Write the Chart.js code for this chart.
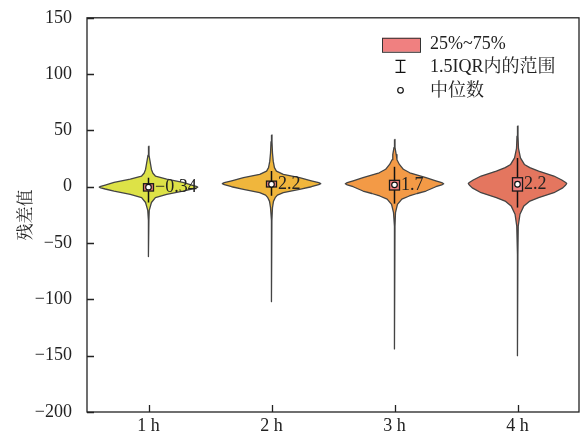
<!DOCTYPE html>
<html>
<head>
<meta charset="utf-8">
<script src="https://cdn.jsdelivr.net/npm/chart.js@4.4.1/dist/chart.umd.min.js"></script>
<style>
  html, body { margin: 0; padding: 0; background: #fff; }
  canvas { display: block; }
</style>
</head>
<body>
<canvas id="chart" width="581" height="437"></canvas>
<script>
// Forecast horizons (x tick labels)
const categories = ['1 h', '2 h', '3 h', '4 h'];

// Box statistics per horizon
const medians = [-0.34, 2.2, 1.7, 2.2];
const q1 = [-3.8, -0.2, -2.9, -3.8];
const q3 = [2.7, 5.0, 5.7, 8.0];
const whiskerLow = [-14, -8, -15, -18.5];
const whiskerHigh = [8, 14, 17.7, 25.5];

// Kernel density outlines: residual levels and relative half-widths
const levels1h = [36, 28, 23, 15.4, 12, 9.5, 6.7, 3.8, 1.5, 0.4, -0.3, -1, -2, -3.8, -6.7, -9.7, -14, -21, -30, -45, -62];
const widths1h = [0, 0.01, 0.03, 0.06, 0.09, 0.14, 0.37, 0.7, 0.88, 0.97, 1, 0.97, 0.88, 0.7, 0.37, 0.14, 0.06, 0.015, 0.008, 0.005, 0];

const levels2h = [46, 40, 30, 22.7, 17, 13.9, 11, 8, 5.3, 3.6, 2.7, 1.8, 0, -2.3, -5.3, -7.5, -9.7, -13, -18.5, -30, -50, -75, -102];
const widths2h = [0, 0.01, 0.02, 0.035, 0.06, 0.1, 0.24, 0.57, 0.81, 0.96, 1, 0.96, 0.81, 0.57, 0.24, 0.12, 0.075, 0.04, 0.02, 0.008, 0.006, 0.005, 0];

const levels3h = [42, 35, 28.6, 24, 19.8, 15.5, 12.4, 8, 5.3, 3.7, 2.7, 1.7, 0, -3.8, -6, -8.2, -11, -15.6, -23, -35, -60, -90, -120, -144];
const widths3h = [0, 0.01, 0.035, 0.05, 0.1, 0.18, 0.31, 0.64, 0.84, 0.96, 1, 0.96, 0.84, 0.64, 0.46, 0.3, 0.15, 0.06, 0.02, 0.01, 0.008, 0.007, 0.006, 0];

const levels4h = [54, 45, 34, 25.6, 19.8, 17, 13.9, 9.5, 6, 3.8, 2.7, 1.6, -1, -5.3, -9.7, -13, -17, -24.4, -35, -60, -100, -130, -150];
const widths4h = [0, 0.01, 0.02, 0.06, 0.14, 0.25, 0.43, 0.74, 0.9, 0.98, 1, 0.98, 0.92, 0.74, 0.43, 0.24, 0.13, 0.05, 0.015, 0.008, 0.006, 0.005, 0];

const violinColors = ['#dde247', '#f0b63c', '#f39a46', '#e4765f'];
const legendLabels = ['25%~75%', '1.5IQR内的范围', '中位数'];

const SERIF = "'Liberation Serif', 'Noto Serif CJK SC', 'Noto Sans CJK SC', serif";
const INK = '#222';
const BOX_FILL = '#f08080';
const HALF_WIDTH = 0.4;   // max half-width of a violin, in x units

const profiles = [
  [levels1h, widths1h],
  [levels2h, widths2h],
  [levels3h, widths3h],
  [levels4h, widths4h]
];

// Each violin is one closed outline: right side top->bottom, left side bottom->top
const datasets = profiles.map(([lv, wd], i) => {
  const cx = i + 1;
  const right = lv.map((v, k) => ({ x: cx + wd[k] * HALF_WIDTH, y: v }));
  const left = lv.map((v, k) => ({ x: cx - wd[k] * HALF_WIDTH, y: v })).reverse();
  return {
    label: categories[i],
    data: right.concat(left),
    backgroundColor: violinColors[i],
    borderColor: '#444',
    borderWidth: 1.3,
    borderJoinStyle: 'round',
    fill: 'shape',
    pointRadius: 0,
    tension: 0
  };
});

const fmt = v => (v < 0 ? '\u2212' + Math.abs(v) : String(v));

const overlay = {
  id: 'overlay',
  afterDatasetsDraw(chart) {
    const { ctx, scales: { x, y } } = chart;
    ctx.save();
    categories.forEach((c, i) => {
      const px = x.getPixelForValue(i + 1);
      // 1.5 IQR whisker
      ctx.strokeStyle = '#111';
      ctx.lineWidth = 1.5;
      ctx.beginPath();
      ctx.moveTo(px, y.getPixelForValue(whiskerHigh[i]));
      ctx.lineTo(px, y.getPixelForValue(whiskerLow[i]));
      ctx.stroke();
      // interquartile box
      const top = y.getPixelForValue(q3[i]);
      const bot = y.getPixelForValue(q1[i]);
      ctx.fillStyle = BOX_FILL;
      ctx.fillRect(px - 5, top, 10, bot - top);
      ctx.lineWidth = 1.3;
      ctx.strokeStyle = '#1a1a1a';
      ctx.strokeRect(px - 5, top, 10, bot - top);
      // median marker
      const my = y.getPixelForValue(medians[i]);
      ctx.beginPath();
      ctx.arc(px, my, 2.8, 0, Math.PI * 2);
      ctx.fillStyle = '#fff';
      ctx.fill();
      ctx.lineWidth = 1.2;
      ctx.strokeStyle = '#111';
      ctx.stroke();
      // median value label
      ctx.fillStyle = INK;
      ctx.font = '18px ' + SERIF;
      ctx.textAlign = 'left';
      ctx.textBaseline = 'middle';
      ctx.fillText(fmt(medians[i]), px + 6.5, my);
    });
    ctx.restore();
  },
  afterDraw(chart) {
    const { ctx, chartArea: a, scales: { x, y } } = chart;
    ctx.save();
    ctx.strokeStyle = INK;
    ctx.lineWidth = 1.3;
    // frame
    ctx.strokeRect(a.left, a.top, a.right - a.left, a.bottom - a.top);
    // inward tick marks
    ctx.beginPath();
    y.ticks.forEach(t => {
      const py = Math.round(y.getPixelForValue(t.value)) + 0.5;
      ctx.moveTo(a.left, py);
      ctx.lineTo(a.left + 7, py);
    });
    x.ticks.forEach(t => {
      const px = Math.round(x.getPixelForValue(t.value)) + 0.5;
      ctx.moveTo(px, a.bottom);
      ctx.lineTo(px, a.bottom - 7);
    });
    ctx.stroke();

    // legend
    const lx = a.right - 197;
    const ly = a.top + 20;
    ctx.fillStyle = BOX_FILL;
    ctx.fillRect(lx, ly, 38, 14);
    ctx.lineWidth = 1;
    ctx.strokeStyle = '#333';
    ctx.strokeRect(lx + 0.5, ly + 0.5, 38, 14);

    const sx = lx + 18.5;
    ctx.lineWidth = 1.3;
    ctx.strokeStyle = '#111';
    ctx.beginPath();
    ctx.moveTo(sx - 5, ly + 22.5); ctx.lineTo(sx + 5, ly + 22.5);
    ctx.moveTo(sx, ly + 22.5); ctx.lineTo(sx, ly + 34.5);
    ctx.moveTo(sx - 5, ly + 34.5); ctx.lineTo(sx + 5, ly + 34.5);
    ctx.stroke();

    ctx.beginPath();
    ctx.arc(sx, ly + 52.5, 2.8, 0, Math.PI * 2);
    ctx.fillStyle = '#fff';
    ctx.fill();
    ctx.lineWidth = 1.2;
    ctx.stroke();

    ctx.fillStyle = INK;
    ctx.font = '18px ' + SERIF;
    ctx.textAlign = 'left';
    ctx.textBaseline = 'middle';
    legendLabels.forEach((t, k) => ctx.fillText(t, lx + 48, ly + 6 + k * 23.5));
    ctx.restore();
  }
};

Chart.defaults.font.family = SERIF;
Chart.defaults.font.size = 18;
Chart.defaults.color = INK;

new Chart(document.getElementById('chart'), {
  type: 'line',
  data: { datasets },
  options: {
    responsive: false,
    animation: false,
    devicePixelRatio: 1,
    layout: { padding: { top: 16, right: 2, left: 0, bottom: 0 } },
    plugins: { legend: { display: false }, tooltip: { enabled: false } },
    scales: {
      x: {
        type: 'linear',
        min: 0.5,
        max: 4.5,
        grid: { display: false },
        border: { display: false },
        afterBuildTicks: s => { s.ticks = categories.map((c, i) => ({ value: i + 1 })); },
        afterFit: s => { s.height = 25; },
        ticks: {
          padding: -5,
          maxRotation: 0,
          autoSkip: false,
          callback: v => categories[v - 1]
        }
      },
      y: {
        min: -200,
        max: 150,
        grid: { display: false },
        border: { display: false },
        afterFit: s => { s.width = 87; },
        ticks: { stepSize: 50, padding: 7, callback: v => fmt(v) },
        title: {
          display: true,
          text: '残差值',
          font: { size: 17, family: "'Noto Serif CJK SC', 'Noto Sans CJK SC', serif" },
          padding: { top: 14, bottom: 0 }
        }
      }
    }
  },
  plugins: [overlay]
});
</script>
</body>
</html>
